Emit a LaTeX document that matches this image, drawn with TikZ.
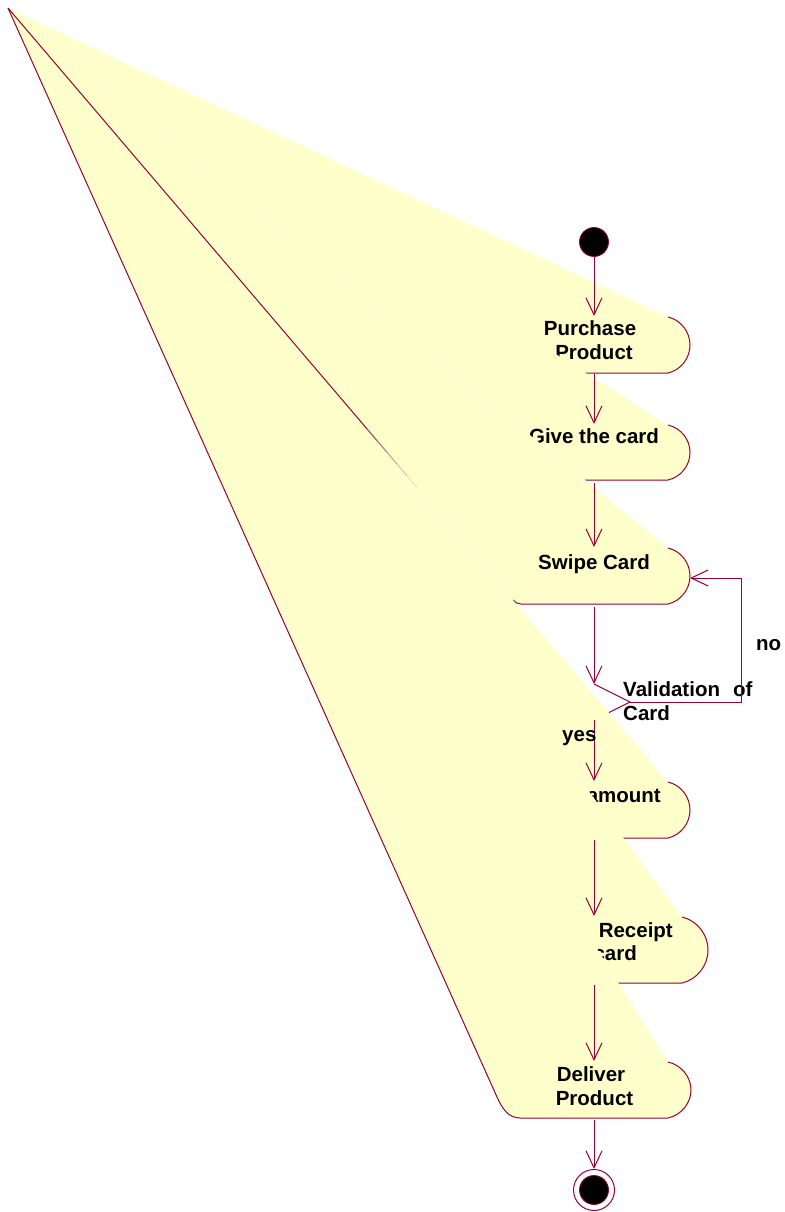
\documentclass[tikz,border=0pt]{standalone}
\usepackage{fontspec}
\setmainfont{Liberation Sans}
\usetikzlibrary{arrows.meta}
\definecolor{rosefill}{RGB}{255,255,204}
\definecolor{roseline}{RGB}{153,0,51}
\begin{document}
\begin{tikzpicture}[x=1pt,y=-1pt,
  fan/.style={fill=rosefill},
  outline/.style={draw=roseline,line width=1pt,line join=round},
  lbl/.style={font=\fontsize{20.5}{24}\selectfont\bfseries,inner sep=0pt,text=black},
  flow/.style={draw=roseline,line width=1pt,-{Straight Barb[length=17pt,width=16pt]}},
  dot/.style={circle,fill=black,draw=roseline,line width=0.8pt,minimum size=29pt,inner sep=0pt},
  ring/.style={circle,draw=roseline,line width=1pt,minimum size=41pt,inner sep=0pt}
]
\useasboundingbox (0,0) rectangle (784,1212);
\fill[white] (0,0) rectangle (784,1212);
\coordinate (O) at (8,8);

% Purchase Product
\fill[fan] (O) -- (668,317) .. controls (681,320) and (690,332) .. (690,345) .. controls (690,358) and (681,370) .. (668,373) -- (585,373) -- cycle;
\draw[outline] (668,317) .. controls (681,320) and (690,332) .. (690,345) .. controls (690,358) and (681,370) .. (668,373) -- (585,373);
\node[lbl,anchor=base] (pp1) at (590,335) {Purchase};
\node[lbl,anchor=base] (pp2) at (594,359.5) {Product};

% Give the card
\fill[fan] (O) -- (668,425) .. controls (681,428) and (690,439.5) .. (690,452.5) .. controls (690,465.5) and (681,477) .. (668,480) -- (585,480) -- cycle;
\draw[outline] (668,425) .. controls (681,428) and (690,439.5) .. (690,452.5) .. controls (690,465.5) and (681,477) .. (668,480) -- (585,480);
\node[lbl,anchor=base] (gc) at (594,443) {Give the card};

% Swipe Card
\fill[fan] (O) -- (668,548) .. controls (681,551) and (690,563) .. (690,576) .. controls (690,589) and (681,601) .. (668,604) -- (521,604) .. controls (517.5,604) and (515,602.5) .. (513,600) -- cycle;
\draw[outline] (668,548) .. controls (681,551) and (690,563) .. (690,576) .. controls (690,589) and (681,601) .. (668,604) -- (521,604) .. controls (517.5,604) and (515,602.5) .. (513,600);
\node[lbl,anchor=base] (sc) at (594,569) {Swipe Card};

% Decision
\coordinate (dtop) at (594,684);
\coordinate (dright) at (630,702);
\coordinate (dbot) at (594,720);
\draw[outline] (dtop) -- (dright) -- (dbot);
\node[lbl,anchor=base west] (v1) at (623,696) {Validation\hspace{13pt}of};
\node[lbl,anchor=base west] (v2) at (623,720) {Card};

% Enter amount
\fill[fan] (O) -- (668,782) .. controls (681,785) and (690,797) .. (690,810) .. controls (690,823) and (681,835) .. (668,838) -- (623,838) -- cycle;
\draw[outline] (668,782) .. controls (681,785) and (690,797) .. (690,810) .. controls (690,823) and (681,835) .. (668,838) -- (623,838);
\node[lbl,anchor=base east] (ea) at (661,802) {amount};

% Receipt card
\fill[fan] (O) -- (682,917) .. controls (697,920.5) and (708,934.3) .. (708,950) .. controls (708,965.7) and (697,979.5) .. (682,983) -- (618,983) -- cycle;
\draw[outline] (682,917) .. controls (697,920.5) and (708,934.3) .. (708,950) .. controls (708,965.7) and (697,979.5) .. (682,983) -- (618,983);
\node[lbl,anchor=base east] (pr1) at (673,937) {Receipt};
\node[lbl,anchor=base east] (pr2) at (637,960) {card};

% Deliver Product
\fill[fan] (O) -- (668,1062) .. controls (681.5,1065) and (691,1077) .. (691,1090) .. controls (691,1103) and (681.5,1115) .. (668,1118) -- (520,1118) .. controls (508,1118) and (502,1108) .. (497,1097) -- cycle;
\draw[outline] (668,1062) .. controls (681.5,1065) and (691,1077) .. (691,1090) .. controls (691,1103) and (681.5,1115) .. (668,1118) -- (520,1118) .. controls (508,1118) and (502,1108) .. (497,1097) -- (O);
\node[lbl,anchor=base] (dp1) at (591,1081) {Deliver};
\node[lbl,anchor=base] (dp2) at (594.5,1105) {Product};

% visible remnant of the Swipe Card left edge
\draw[outline] (O) -- (367,428.9);
\draw[roseline,line width=1pt,opacity=0.8] (367,428.9) -- (377,440.6);
\draw[roseline,line width=1pt,opacity=0.6] (377,440.6) -- (387,452.3);
\draw[roseline,line width=1pt,opacity=0.4] (387,452.3) -- (397,464.0);
\draw[roseline,line width=1pt,opacity=0.25] (397,464.0) -- (407,475.8);
\draw[roseline,line width=1pt,opacity=0.12] (407,475.8) -- (417,487.5);

% start and end
\node[dot] (start) at (594,242) {};
\node[ring] (finish) at (594,1190) {};
\node[dot] (finishdot) at (594,1190) {};

% transition end points
\coordinate (a1) at (594,316);
\coordinate (b1) at (594,374);
\coordinate (a2) at (594,424);
\coordinate (b2) at (594,483);
\coordinate (a3) at (594,547);
\coordinate (b3) at (594,607);
\coordinate (a5) at (594,781);
\coordinate (b5) at (594,840);
\coordinate (a6) at (594,916);
\coordinate (b6) at (594,985);
\coordinate (a7) at (594,1061);
\coordinate (b7) at (594,1120);
\coordinate (lp1) at (741,702);
\coordinate (lp2) at (741,578);
\coordinate (a3r) at (690,578);

\draw[flow] (start) -- (a1);
\draw[flow] (b1) -- (a2);
\draw[flow] (b2) -- (a3);
\draw[flow] (b3) -- (dtop);
\draw[flow] (dbot) -- (a5);
\draw[flow] (b5) -- (a6);
\draw[flow] (b6) -- (a7);
\draw[flow] (b7) -- (finish);
\draw[flow] (dright) -- (lp1) -- (lp2) -- (a3r);

\node[lbl,anchor=base west] (yes) at (562,741) {yes};
\node[lbl,anchor=base west] (no) at (756,650) {no};
\end{tikzpicture}
\end{document}
